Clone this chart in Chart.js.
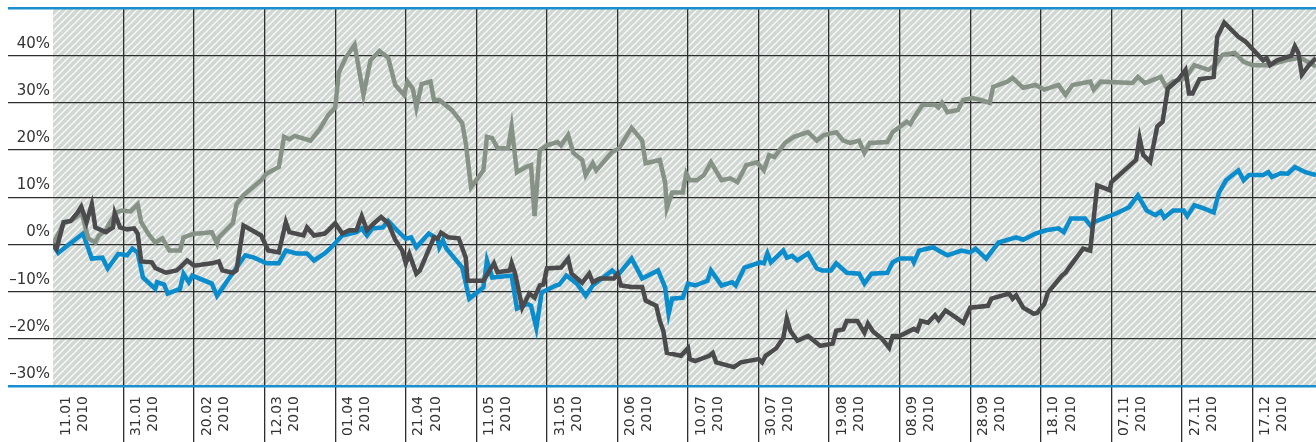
<!DOCTYPE html>
<html lang="de">
<head>
<meta charset="utf-8">
<title>Kursentwicklung 2010</title>
<script src="https://cdn.jsdelivr.net/npm/chart.js@4.4.1/dist/chart.umd.min.js"></script>
<style>
    html, body { margin: 0; padding: 0; background: #fff; }
    #wrap { width: 1316px; height: 442px; }
</style>
</head>
<body>
<div id="wrap"><canvas id="chart" width="1316" height="442"></canvas></div>
<script>
// Axe des dates (jours depuis le 11.01.2010)
const tickDates = ['11.01', '31.01', '20.02', '12.03', '01.04', '21.04', '11.05', '31.05', '20.06',
                   '10.07', '30.07', '19.08', '08.09', '28.09', '18.10', '07.11', '27.11', '17.12'];
const tickYear = '2010';
const tickDays = [0, 20, 40, 60, 80, 100, 120, 140, 160, 180, 200, 220, 240, 260, 280, 300, 320, 340];
const yTicks = [-30, -20, -10, 0, 10, 20, 30, 40, 50];

// Série gris foncé
const darkDays = [
    0, 1, 3, 5, 7, 8, 9.5, 11, 12, 15,
    17, 17.5, 19, 21, 23, 24, 25, 28, 29, 32,
    35, 36, 38, 40, 45, 47, 48, 51, 52, 54,
    59, 61, 64, 66, 67, 71, 72, 74, 77, 78,
    80, 82, 84, 86, 87.5, 89, 91, 93, 95, 97,
    99, 100, 101, 103, 104, 106, 108, 109, 110, 112,
    115, 117, 117.5, 122, 125, 126, 129.5, 130, 131, 133,
    135, 136.5, 138, 139, 140, 144, 146, 147, 150, 152,
    153, 155, 159, 160, 161, 164, 167, 168, 171, 172,
    173, 174, 178, 180, 180.5, 182, 186, 187, 188, 193,
    195, 200, 201, 202, 205, 207, 208, 209, 211, 214,
    215, 217.5, 221, 222, 224, 225, 228, 230, 231, 232.5,
    235, 237, 238, 240, 244, 245, 246, 248, 250, 251,
    253, 256, 258, 259, 260, 265, 266, 271, 272, 273,
    275, 278, 279, 281, 282, 286, 287, 288, 292, 294,
    296, 299.5, 300, 307, 308, 309, 311, 313, 314.5, 316,
    319, 321, 322, 323, 325, 329, 330, 332, 336, 338,
    343, 344, 345, 347, 351, 352, 353, 354, 356, 358
];
const darkValues = [
    0, -1, 4.7, 5, 6.8, 8, 4.7, 8.5, 3.6, 2.6,
    3.6, 6.6, 3.6, 3.2, 3.4, 2.3, -3.6, -3.8, -5, -6,
    -5.5, -4.9, -3.4, -4.5, -4, -3.6, -5.5, -6, -5.5, 4,
    1.9, -1.3, -1.7, 4.7, 2.6, 1.9, 3.6, 1.9, 2.3, 3,
    4.5, 2.3, 3, 3, 6, 3, 4.5, 5.8, 4.5, 1,
    -1.3, -4, -2, -6.2, -5.5, -2, 1.5, 1.2, 2.5, 1.5,
    1.3, -2.8, -7.7, -7.7, -4, -5.9, -5.5, -4, -6.2, -13.4,
    -10.4, -11.3, -8.7, -8.5, -5.1, -4.9, -3, -6.2, -8.1, -6.2,
    -8, -7.2, -7.2, -6.2, -8.7, -9, -9, -11.9, -13, -16.2,
    -18.3, -23, -23.6, -22, -24.3, -24.7, -23.6, -23, -25, -26,
    -25, -24.3, -25, -23.6, -22, -19.8, -15.7, -18.3, -20.4, -19.4,
    -20, -21.5, -21, -18.3, -18, -16.2, -16.2, -18.7, -16.8, -18.5,
    -20, -21.9, -19.4, -19.4, -17.9, -18.3, -16.2, -16.6, -15, -16,
    -14, -15.5, -16.6, -15, -13.4, -13, -11.5, -10.4, -11.5, -10.8,
    -13.4, -14.7, -14.5, -12.6, -10.2, -6.6, -6, -4.9, -0.9, -1.3,
    12.5, 11.5, 13.2, 17.9, 22.5, 19, 17.5, 25, 26, 33,
    35, 37, 32, 32, 35, 35.5, 44, 47, 44, 43,
    39, 39.5, 38, 39, 40, 42, 40.6, 36, 38, 39.5
];

// Série gris-vert
const greyDays = [
    0, 3, 5, 7, 8, 10, 12, 13, 15, 16,
    18, 19.5, 22, 24, 25, 27, 29, 31, 33, 36,
    37, 40, 41.5, 45, 46.5, 47, 49, 51, 52, 54,
    59, 60.5, 64, 65.5, 67, 68.5, 73, 75.5, 78, 80,
    81, 83, 85.5, 88, 90, 92.5, 95, 97, 99.5, 100.5,
    102, 103, 104.5, 107, 108, 109.5, 110.5, 113, 116, 117,
    118.5, 122, 123, 124.5, 126, 129, 130, 131.5, 134, 135.5,
    136.5, 138, 140, 143, 144, 146, 147.5, 150, 151, 153,
    154, 157, 158.5, 160.5, 164, 167, 168, 172, 173.5, 174,
    175.5, 178.5, 179.5, 180.5, 182.5, 184.5, 186.5, 189.5, 192, 194,
    196.5, 199.5, 201.5, 203, 204.5, 207.5, 210, 214, 216.5, 218.5,
    222, 224, 226, 228.5, 230, 231.5, 236.5, 238, 242, 243,
    244, 246.5, 250, 251, 252, 253.5, 256.5, 258, 260.5, 263,
    265.5, 266.5, 270.5, 272, 275, 278.5, 281, 285, 287, 289,
    294, 295, 297, 306, 307.5, 309.5, 314, 315.5, 317.5, 321,
    323.5, 327.5, 329.5, 331.5, 335, 337.5, 340, 344.5, 349.5, 353.5,
    358
];
const greyValues = [
    0, 4.5, 5, 6, 7, 1.3, 0.4, 1.9, 3, 4.5,
    6.8, 7.2, 7, 8.5, 4.7, 2.3, 0.4, 1.3, -1.3, -1.3,
    1.5, 2.3, 2.3, 2.6, 0.2, 1.5, 3, 4.5, 8.5, 10.4,
    13.6, 15, 16.4, 22.8, 22.3, 23, 22, 24.3, 27.4, 29,
    36.4, 39.6, 42.3, 31.7, 39, 41, 39.6, 33.8, 31.7, 34.5,
    33, 29, 34, 34.5, 30.6, 30.6, 30, 28.5, 25.7, 21.5,
    12.1, 15.7, 22.8, 22.5, 20.4, 20.4, 24.9, 15.3, 16.4, 16.8,
    6, 20, 21, 21.7, 21, 23.2, 19.4, 17.9, 14.7, 17.2,
    15.7, 18.3, 19.6, 20.4, 24.7, 22, 17.2, 17.9, 13.2, 7.7,
    11, 11, 15, 13.6, 13.6, 14.7, 17.4, 13.6, 14, 13.2,
    16.8, 17.4, 15.7, 18.9, 18.5, 21.5, 22.8, 23.8, 22, 23.2,
    23.8, 22, 21.5, 22, 19.4, 21.5, 21.7, 23.8, 26, 25.5,
    26.8, 29.6, 29.6, 29, 30, 28, 28.5, 30.6, 31, 30.6,
    30, 33.4, 34.5, 35.3, 33.2, 33.8, 32.8, 33.8, 31.7, 33.8,
    34.5, 32.8, 34.5, 34.2, 35.5, 34.2, 35.5, 33.4, 34.5, 35.3,
    38, 37, 38, 40.2, 40.6, 38.7, 38, 38, 39, 39.6,
    37.7
];

// Série bleue
const blueDays = [
    0, 1.5, 3.5, 8.5, 11, 14, 15.5, 18.5, 21, 22.5,
    24, 25.5, 29, 29.5, 31.5, 32.5, 36, 37, 38.5, 39.5,
    45, 46.5, 51, 54.5, 57, 60.5, 64, 66, 69, 72,
    74, 77, 78.5, 82, 86, 87.5, 89, 90.5, 93.5, 95,
    97.5, 100, 101.5, 103, 106.5, 109, 109.5, 110.5, 111.5, 116,
    118, 122, 123, 124.5, 130, 131.5, 134.5, 135.5, 137, 138.5,
    142.5, 143.5, 145.5, 148.5, 151, 153, 158.5, 160, 164, 167,
    171.5, 173.5, 174.5, 175.5, 178.5, 180, 182, 185.5, 186.5, 189.5,
    192.5, 193.5, 196, 200.5, 201.5, 202.5, 203.5, 207, 208, 209.5,
    211, 214, 216.5, 218, 220.5, 222, 225, 228.5, 230, 232,
    236.5, 238, 240, 243.5, 244, 245.5, 249.5, 251, 253.5, 257.5,
    260, 261.5, 264.5, 268, 273, 275, 278.5, 281.5, 285, 286.5,
    288.5, 292.5, 294.5, 295, 301.5, 305, 307.5, 310, 312.5, 314,
    315, 317.5, 320.5, 321.5, 323.5, 326, 329, 330.5, 332.5, 336,
    337.5, 339, 343, 344.5, 345.5, 348, 350, 352, 355, 358
];
const blueValues = [
    0, -1.8, -0.6, 2.3, -3, -2.8, -5.1, -2, -2.3, -0.9,
    -1.7, -7, -9.4, -8, -8.5, -10.4, -9.4, -6.2, -8, -6.6,
    -8.3, -10.9, -6, -2.3, -2.8, -4, -4, -1.3, -1.9, -1.9,
    -3.4, -1.9, -0.9, 1.9, 2.6, 3.4, 1.9, 3.4, 3.6, 5,
    3, 1.2, 1.5, -0.6, 2.3, 1.2, -0.6, 0.9, -0.9, -4.9,
    -11.5, -9.1, -3.4, -7, -6.6, -13.6, -12.6, -13, -17.7, -10.2,
    -8.7, -8.5, -6.6, -8.3, -10.9, -8.7, -5.5, -6.6, -3, -7.2,
    -5.5, -9.1, -14.7, -11.5, -11.3, -8.3, -8.7, -7.7, -5.5, -8.7,
    -8, -8.7, -4.9, -3.8, -4, -1.9, -3.8, -1.3, -2.8, -2.4,
    -3.4, -1.9, -5.1, -5.5, -5.5, -4, -6, -6.2, -8.3, -6.2,
    -6, -3.8, -3, -3, -3.8, -1.3, -0.6, -1.3, -2.3, -1.3,
    -1.7, -0.9, -3, 0.4, 1.5, 1, 2.3, 3, 3.4, 2.6,
    5.5, 5.5, 3.6, 4.7, 6.6, 7.9, 10.4, 7.2, 6.2, 7,
    5.7, 7.2, 7.2, 6, 8.3, 7.7, 6.8, 11, 13.6, 15.7,
    13.6, 14.7, 14.7, 15.3, 14.3, 15.1, 15, 16.4, 15.3, 14.7
];

const GRID = '#2e2e2e';
const EDGE = '#1a8fd0';

// Construction des points
function toPoints(days, values) {
    return days.map((d, i) => ({ x: d, y: values[i] }));
}

// Motif hachuré du fond (diagonales blanches « / »)
function makeHatch(ctx) {
    const size = 7;
    const tile = document.createElement('canvas');
    tile.width = size;
    tile.height = size;
    const g = tile.getContext('2d');
    g.fillStyle = '#d1d7d2';
    g.fillRect(0, 0, size, size);
    g.strokeStyle = 'rgba(255, 255, 255, 0.9)';
    g.lineWidth = 1.3;
    g.beginPath();
    for (const off of [-size, 0, size]) {
        g.moveTo(off - 1, size + 1);
        g.lineTo(off + size + 1, -1);
    }
    g.stroke();
    return ctx.createPattern(tile, 'repeat');
}

const hatchPlugin = {
    id: 'hatch',
    beforeDraw(chart) {
        const { ctx, chartArea: a } = chart;
        ctx.save();
        ctx.fillStyle = makeHatch(ctx);
        ctx.fillRect(a.left, a.top, a.right - a.left, a.bottom - a.top);
        ctx.restore();
    }
};

function lineDataset(data, color) {
    return {
        data: data,
        borderColor: color,
        borderWidth: 4.5,
        borderJoinStyle: 'miter',
        pointRadius: 0,
        tension: 0,
        fill: false
    };
}

document.addEventListener('DOMContentLoaded', () => {
    const ctx = document.getElementById('chart').getContext('2d');
    new Chart(ctx, {
        type: 'line',
        data: {
            datasets: [
                lineDataset(toPoints(darkDays, darkValues), '#4b4b4d'),
                lineDataset(toPoints(greyDays, greyValues), '#879287'),
                lineDataset(toPoints(blueDays, blueValues), '#0a8ccd')
            ]
        },
        options: {
            responsive: false,
            animation: false,
            layout: { padding: { top: 8.5, left: 0, right: 0, bottom: 0 } },
            plugins: { legend: { display: false }, tooltip: { enabled: false } },
            scales: {
                x: {
                    type: 'linear',
                    min: 0,
                    max: 358,
                    afterBuildTicks: scale => { scale.ticks = tickDays.map(v => ({ value: v })); },
                    afterFit: scale => {
                        scale.height = 56;
                        scale.paddingLeft = 0;
                        scale.paddingRight = 0;
                    },
                    border: { display: false },
                    grid: {
                        color: c => (c.tick && c.tick.value === 0) ? 'rgba(0,0,0,0)' : GRID,
                        lineWidth: 1.3,
                        drawTicks: true,
                        tickLength: 56
                    },
                    ticks: {
                        autoSkip: false,
                        minRotation: 90,
                        maxRotation: 90,
                        padding: -46,
                        labelOffset: 13,
                        color: '#333',
                        font: { family: 'DejaVu Sans', size: 14, lineHeight: 1.22 },
                        callback: value => {
                            const i = tickDays.indexOf(value);
                            return i < 0 ? '' : [tickDates[i], tickYear];
                        }
                    }
                },
                y: {
                    type: 'linear',
                    min: -30,
                    max: 50,
                    afterBuildTicks: scale => { scale.ticks = yTicks.map(v => ({ value: v })); },
                    afterFit: scale => {
                        scale.width = 53;
                        scale.paddingTop = 0;
                        scale.paddingBottom = 0;
                    },
                    border: { display: false },
                    grid: {
                        color: c => (c.tick && (c.tick.value === 50 || c.tick.value === -30)) ? EDGE : GRID,
                        lineWidth: c => (c.tick && (c.tick.value === 50 || c.tick.value === -30)) ? 2.6 : 1.3,
                        drawTicks: true,
                        tickLength: 45
                    },
                    ticks: {
                        autoSkip: false,
                        padding: -42,
                        labelOffset: -12,
                        crossAlign: 'near',
                        color: '#333',
                        font: { family: 'DejaVu Sans', size: 15 },
                        callback: value => {
                            if (value === 50) return '';
                            return (value < 0 ? '\u2013' + Math.abs(value) : value) + '%';
                        }
                    }
                }
            }
        },
        plugins: [hatchPlugin]
    });
});
</script>
</body>
</html>
